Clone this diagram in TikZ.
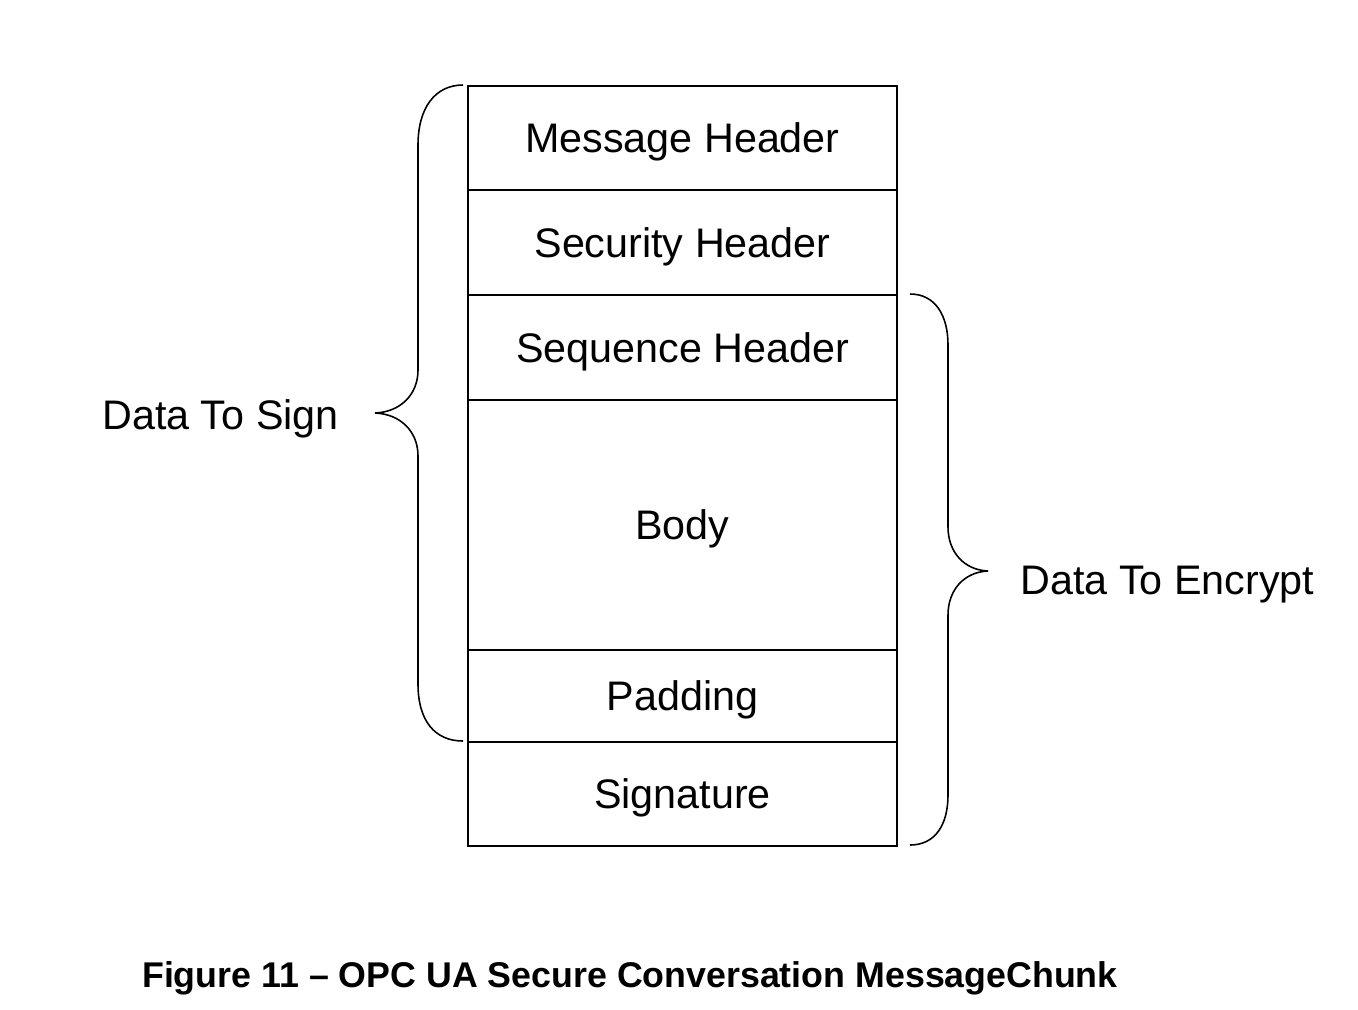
\documentclass[tikz,border=0pt]{standalone}
\usepackage{fontspec}
\setmainfont{Liberation Sans}
\usepackage{tikz}

\tikzset{
  field/.style={draw, line width=0.9pt, minimum width=8.58cm, inner sep=0pt,
    anchor=north, text height=16.8pt, text depth=0pt,
    font=\fontsize{23.5}{28}\selectfont},
  bracepath/.style={line width=0.9pt},
  bracetext/.style={inner sep=0pt, text height=16.8pt, text depth=0pt,
    font=\fontsize{23.5}{28}\selectfont},
}

\begin{document}
\begin{tikzpicture}[x=0.02cm, y=-0.02cm]

\useasboundingbox[fill=white] (0,0) rectangle (1358,1009);

% Message chunk fields
\node[field, minimum height=2.08cm] (msghdr) at (682.5,85) {Message Header};
\node[field, minimum height=2.1cm] (sechdr) at (682.5,189) {Security Header};
\node[field, minimum height=2.1cm] (seqhdr) at (682.5,294) {Sequence Header};
\node[field, minimum height=5.0cm] (body) at (682.5,399) {Body};
\node[field, minimum height=1.84cm] (padding) at (682.5,649) {Padding};
\node[field, minimum height=2.08cm] (signature) at (682.5,741) {Signature};

% Brace for signed data
\draw[bracepath] (463,85) .. controls (435,85) and (418,108) .. (418,145)
  -- (418,370) .. controls (418,395) and (400,412) .. (375,413)
  .. controls (400,414) and (418,431) .. (418,456)
  -- (418,684) .. controls (418,721) and (435,741) .. (463,741);

% Brace for encrypted data
\draw[bracepath] (910,294) .. controls (935,294) and (948,315) .. (948,345)
  -- (948,527) .. controls (948,552) and (964,570) .. (988,571)
  .. controls (964,572) and (948,590) .. (948,615)
  -- (948,795) .. controls (948,825) and (935,845) .. (910,845);

% Labels
\node[bracetext] (sign) at (220.5,415) {Data To Sign};
\node[bracetext] (encrypt) at (1167.5,580) {Data To Encrypt};
\node[inner sep=0pt, text height=14.6pt, text depth=0pt,
  font=\fontsize{20.35}{24}\bfseries] (caption) at (630,975)
  {Figure 11 -- OPC UA Secure Conversation MessageChunk};

\end{tikzpicture}
\end{document}
